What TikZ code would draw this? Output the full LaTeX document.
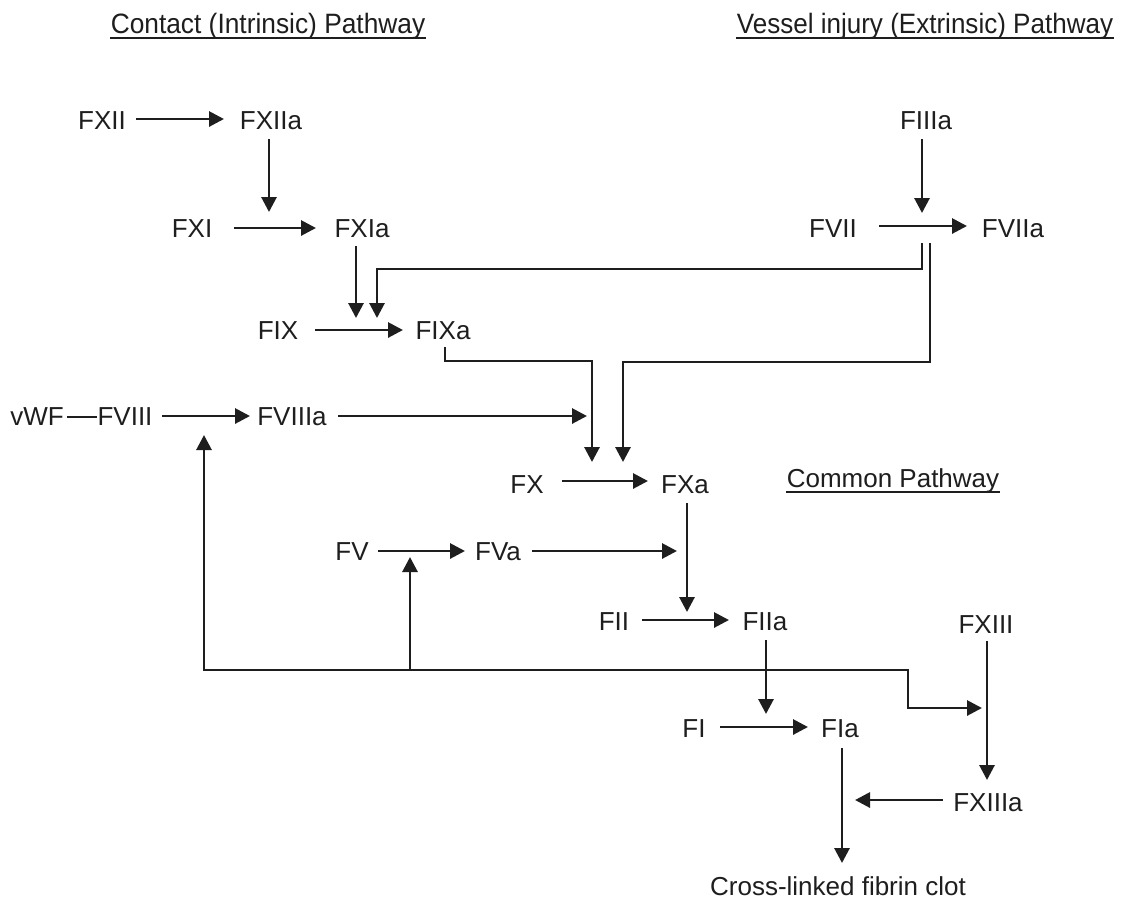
\documentclass[tikz,border=0pt]{standalone}
\usepackage{fontspec}
\setmainfont{Liberation Sans}
\usetikzlibrary{arrows.meta,calc}
\definecolor{ink}{HTML}{1E1E1E}
\begin{document}
\begin{tikzpicture}[x=0.5pt,y=-0.5pt,
  lbl/.style={inner sep=0pt, text height=9.4pt, text depth=0pt, font=\fontsize{13}{15}\selectfont, text=ink},
  hdr/.style={inner sep=0pt, text height=10pt, text depth=0pt, font=\fontsize{14}{16}\selectfont, text=ink},
  ln/.style={draw=ink, line width=1.45pt},
  arr/.style={ln, -{Triangle[length=7.5pt,width=7.5pt]}}]
\useasboundingbox[fill=white] (0,0) rectangle (1125,902);

% headers
\node[hdr] (h1) at (268,23) {\scalebox{0.94}[1]{Contact (Intrinsic) Pathway}};
\node[hdr] (h2) at (925,23) {\scalebox{0.93}[1]{Vessel injury (Extrinsic) Pathway}};
\node[lbl] (common) at (893,478) {Common Pathway};
\draw[ln] ($(h1.west)+(0,15)$) -- ($(h1.east)+(0,15)$);
\draw[ln] ($(h2.west)+(0,15)$) -- ($(h2.east)+(0,15)$);
\draw[ln] ($(common.west)+(0,14)$) -- ($(common.east)+(0,14)$);

% factors
\node[lbl] (fxii) at (102,120) {FXII};
\node[lbl] (fxiia) at (271,120) {FXIIa};
\node[lbl] (fiiia) at (926,120) {FIIIa};
\node[lbl] (fxi) at (192,228) {FXI};
\node[lbl] (fxia) at (362,228) {FXIa};
\node[lbl] (fvii) at (833,228) {FVII};
\node[lbl] (fviia) at (1013,228) {FVIIa};
\node[lbl] (fix) at (278,330) {FIX};
\node[lbl] (fixa) at (443,330) {FIXa};
\node[lbl] (vwf) at (37,416) {vWF};
\node[lbl] (fviii) at (125,416) {FVIII};
\node[lbl] (fviiia) at (292,416) {FVIIIa};
\node[lbl] (fx) at (527,484) {FX};
\node[lbl] (fxa) at (685,484) {FXa};
\node[lbl] (fv) at (352,551) {FV};
\node[lbl] (fva) at (498,551) {FVa};
\node[lbl] (fii) at (614,621) {FII};
\node[lbl] (fiia) at (765,621) {FIIa};
\node[lbl] (fxiii) at (986,624) {FXIII};
\node[lbl] (fi) at (694,728) {FI};
\node[lbl] (fia) at (840,728) {FIa};
\node[lbl] (fxiiia) at (988,802) {FXIIIa};
\node[lbl] (clot) at (838,886) {Cross-linked fibrin clot};

% intrinsic
\draw[arr] ($(fxii)+(34,-1)$) -- ($(fxiia)+(-47,-1)$);
\draw[arr] ($(fxiia)+(-2,19)$) -- ($(fxiia)+(-2,92)$);
\draw[arr] ($(fxi)+(42,0)$) -- ($(fxia)+(-46,0)$);
\draw[arr] ($(fxia)+(-6,18)$) -- ($(fxia)+(-6,90)$);
\draw[arr] ($(fix)+(37,0)$) -- ($(fixa)+(-40,0)$);

% extrinsic
\draw[arr] ($(fiiia)+(-4,19)$) -- ($(fiiia)+(-4,93)$);
\draw[arr] ($(fvii)+(46,-2)$) -- ($(fviia)+(-46,-2)$);
\draw[arr] ($(fviia)+(-91,15)$) |- ($(fixa)+(-66,-61)$) -- ($(fixa)+(-66,-12)$);
\draw[arr] ($(fviia)+(-83,15)$) |- ($(fxa)+(-62,-122)$) -- ($(fxa)+(-62,-22)$);

% to FX
\draw[arr] ($(fixa)+(2,17)$) |- ($(fx)+(65,-123)$) -- ($(fx)+(65,-22)$);
\draw[ln] ($(vwf)+(30,1)$) -- ($(fviii)+(-28,1)$);
\draw[arr] ($(fviii)+(37,0)$) -- ($(fviiia)+(-42,0)$);
\draw[arr] ($(fviiia)+(46,0)$) -- ($(fx)+(60,-68)$);

% common
\draw[arr] ($(fx)+(35,-3)$) -- ($(fxa)+(-37,-3)$);
\draw[arr] ($(fxa)+(2,19)$) -- ($(fxa)+(2,128)$);
\draw[arr] ($(fv)+(26,0)$) -- ($(fva)+(-33,0)$);
\draw[arr] ($(fva)+(34,0)$) -- ($(fxa)+(-8,67)$);
\draw[arr] ($(fii)+(28,-1)$) -- ($(fiia)+(-36,-1)$);
\draw[arr] ($(fiia)+(1,19)$) -- ($(fiia)+(1,93)$);
\draw[arr] ($(fi)+(26,-1)$) -- ($(fia)+(-32,-1)$);
\draw[arr] ($(fia)+(2,20)$) -- ($(clot)+(4,-23)$);
\draw[arr] ($(fxiii)+(1,17)$) -- ($(fxiiia)+(-1,-22)$);
\draw[arr] ($(fxiiia)+(-45,-2)$) -- ($(fia)+(15,72)$);

% thrombin feedback
\coordinate (thr) at ($(fiia)+(1,49)$);
\draw[arr] (thr) -| ($(fviii)+(79,19)$);
\draw[arr] ($(thr)+(-356,0)$) -- ($(fv)+(58,6)$);
\draw[arr] (thr) -- ($(thr)+(142,0)$) |- ($(fxiii)+(-4,84)$);
\end{tikzpicture}
\end{document}
